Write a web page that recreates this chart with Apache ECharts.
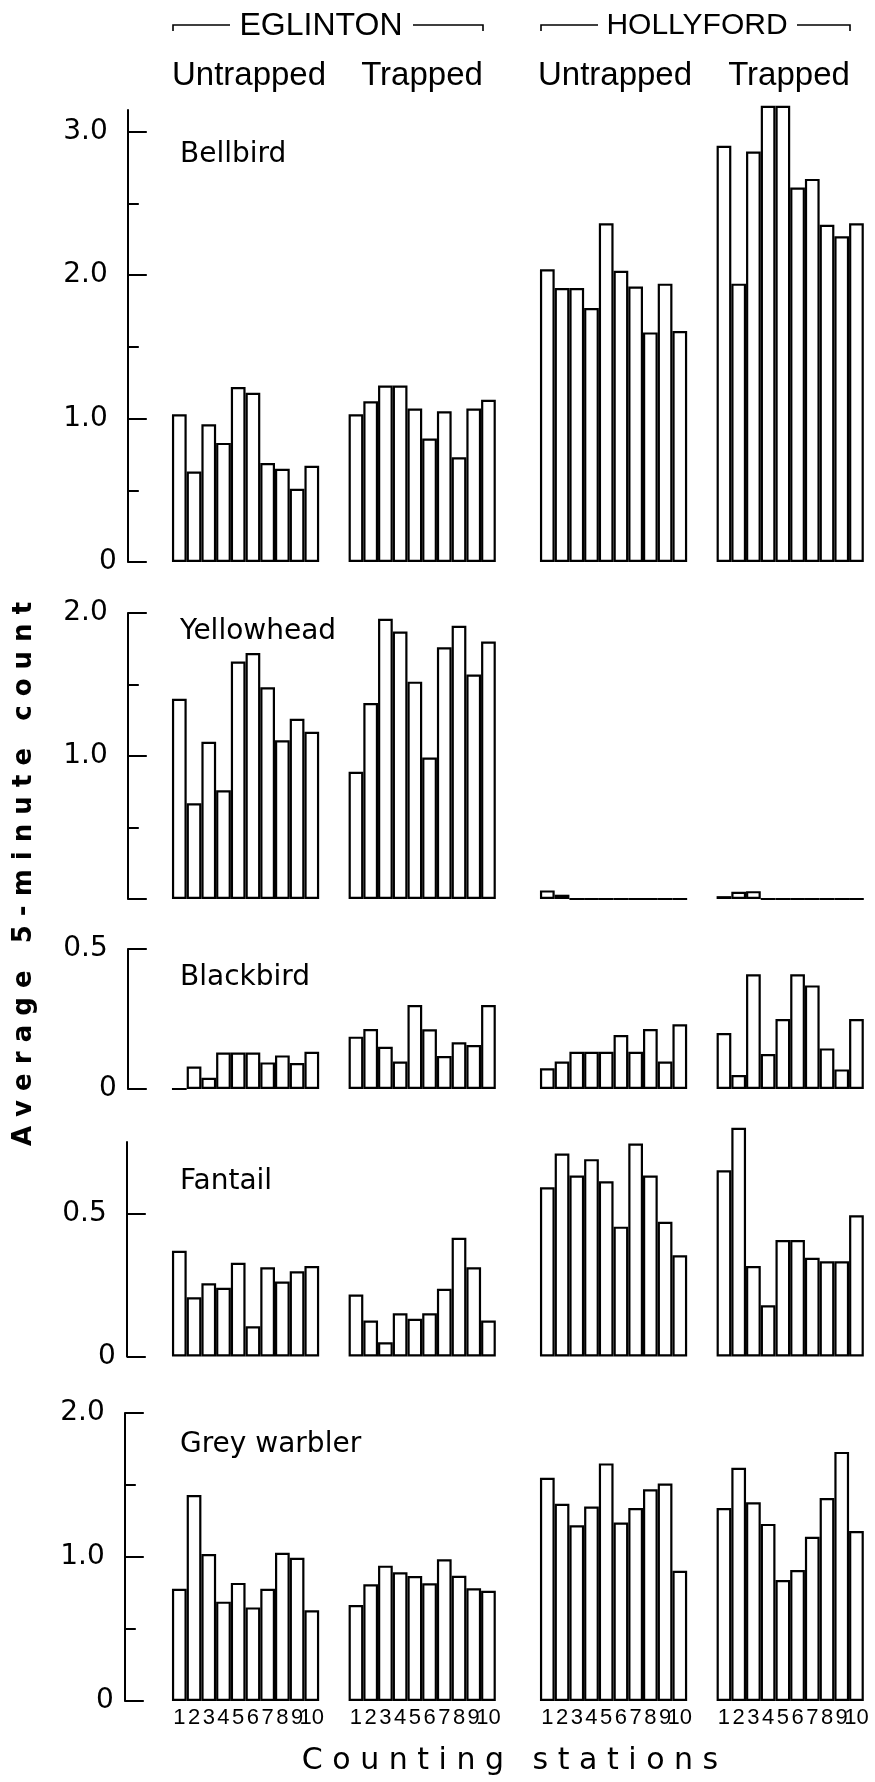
<!DOCTYPE html>
<html>
<head>
<meta charset="utf-8">
<script src="https://cdn.jsdelivr.net/npm/echarts@6/dist/echarts.min.js"></script>
<style>html,body{margin:0;padding:0;background:#fff}#c{width:875px;height:1782px}</style>
</head>
<body>
<div id="c"></div>
<script>
// ---------- data ----------
const stations = ['1','2','3','4','5','6','7','8','9','10'];
const groups = ['Eglinton untrapped','Eglinton trapped','Hollyford untrapped','Hollyford trapped'];
const species = ['Bellbird','Yellowhead','Blackbird','Fantail','Grey warbler'];

const bellbirdEU = [1.03,0.63,0.96,0.83,1.22,1.18,0.69,0.65,0.51,0.67];
const bellbirdET = [1.03,1.12,1.23,1.23,1.07,0.86,1.05,0.73,1.07,1.13];
const bellbirdHU = [2.04,1.91,1.91,1.77,2.36,2.03,1.92,1.60,1.94,1.61];
const bellbirdHT = [2.90,1.94,2.86,3.18,3.18,2.61,2.67,2.35,2.27,2.36];

const yellowheadEU = [1.40,0.67,1.10,0.76,1.66,1.72,1.48,1.11,1.26,1.17];
const yellowheadET = [0.89,1.37,1.96,1.87,1.52,0.99,1.76,1.91,1.57,1.80];
const yellowheadHU = [0.06,0.03,0,0,0,0,0,0,0,0];
const yellowheadHT = [0.02,0.05,0.055,0,0,0,0,0,0,0];

const blackbirdEU = [0,0.08,0.04,0.13,0.13,0.13,0.095,0.12,0.093,0.133];
const blackbirdET = [0.187,0.214,0.151,0.098,0.30,0.213,0.118,0.167,0.157,0.30];
const blackbirdHU = [0.074,0.098,0.133,0.133,0.133,0.193,0.133,0.214,0.098,0.231];
const blackbirdHT = [0.20,0.05,0.41,0.125,0.25,0.41,0.37,0.145,0.07,0.25];

const fantailEU = [0.37,0.207,0.256,0.24,0.328,0.106,0.312,0.262,0.298,0.316];
const fantailET = [0.217,0.126,0.05,0.151,0.132,0.151,0.237,0.415,0.312,0.126];
const fantailHU = [0.592,0.71,0.633,0.69,0.613,0.454,0.745,0.633,0.471,0.354];
const fantailHT = [0.651,0.80,0.316,0.179,0.407,0.407,0.345,0.333,0.333,0.494];

const greyWarblerEU = [0.78,1.43,1.02,0.69,0.82,0.65,0.78,1.03,0.995,0.63];
const greyWarblerET = [0.667,0.81,0.94,0.894,0.868,0.817,0.984,0.87,0.783,0.766];
const greyWarblerHU = [1.55,1.37,1.22,1.35,1.65,1.24,1.34,1.47,1.51,0.905];
const greyWarblerHT = [1.34,1.62,1.38,1.23,0.84,0.91,1.14,1.41,1.73,1.18];

// y-axis tick values per panel
const bellbirdMajor = [0,1,2,3], bellbirdMinor = [0.5,1.5,2.5], bellbirdLabels = [0,1,2,3];
const yellowheadMajor = [0,1,2], yellowheadMinor = [0.5,1.5], yellowheadLabels = [1,2];
const blackbirdMajor = [0,0.5], blackbirdMinor = [], blackbirdLabels = [0,0.5];
const fantailMajor = [0,0.5], fantailMinor = [], fantailLabels = [0,0.5];
const greyWarblerMajor = [0,1,2], greyWarblerMinor = [0.5,1.5], greyWarblerLabels = [0,1,2];
const axisMax = [3.15, 2, 0.5, 0.75, 2];

const panelData = [
  [bellbirdEU,bellbirdET,bellbirdHU,bellbirdHT],
  [yellowheadEU,yellowheadET,yellowheadHU,yellowheadHT],
  [blackbirdEU,blackbirdET,blackbirdHU,blackbirdHT],
  [fantailEU,fantailET,fantailHU,fantailHT],
  [greyWarblerEU,greyWarblerET,greyWarblerHU,greyWarblerHT]
];
const panelTicks = [
  [bellbirdMajor,bellbirdMinor,bellbirdLabels],
  [yellowheadMajor,yellowheadMinor,yellowheadLabels],
  [blackbirdMajor,blackbirdMinor,blackbirdLabels],
  [fantailMajor,fantailMinor,fantailLabels],
  [greyWarblerMajor,greyWarblerMinor,greyWarblerLabels]
];

// ---------- layout ----------
const gridLeft = 127.8, gridWidth = 736;
const panelLayout = [
  {top:110, height:452, offset:0, labelY:155},
  {top:613, height:286, offset:0, labelY:632},
  {top:949, height:140, offset:0, labelY:978},
  {top:1142, height:214.5, offset:1, labelY:1182},
  {top:1413, height:288, offset:3, labelY:1445}
];
const gapSizes = [3,2,3,2]; // empty slots before each group

const catIds = [], catLabels = [];
groups.forEach((g, gi) => {
  for (let i = 0; i < gapSizes[gi]; i++) { catIds.push('gap' + gi + '_' + i); catLabels.push(''); }
  stations.forEach(s => { catIds.push(g + ' ' + s); catLabels.push(s); });
});
function buildRow(sets) {
  const out = [];
  sets.forEach((arr, gi) => {
    for (let i = 0; i < gapSizes[gi]; i++) out.push(null);
    arr.forEach(v => out.push(v));
  });
  return out;
}

const FONT = 'DejaVu Sans';
const grids = [], xAxes = [], yAxes = [], series = [];
panelLayout.forEach((p, i) => {
  grids.push({left:gridLeft, width:gridWidth, top:p.top, height:p.height});
  xAxes.push({
    type:'category', gridIndex:i, data:catIds, boundaryGap:true,
    axisLine:{show:false}, axisTick:{show:false}, splitLine:{show:false},
    axisLabel:{show:i===4, interval:0, margin:6, color:'#000', fontFamily:'Liberation Sans', fontSize:22,
      formatter:(v, idx) => catLabels[idx]}
  });
  const [major, minor, labels] = panelTicks[i];
  const mainIdx = yAxes.length;
  yAxes.push({
    type:'value', gridIndex:i, min:0, max:axisMax[i], interval:0.5, position:'left', offset:p.offset,
    axisLine:{show:true, lineStyle:{color:'#000', width:2}},
    axisTick:{show:true, inside:true, length:19, lineStyle:{color:'#000', width:2}, customValues:major},
    axisLabel:{show:true, customValues:labels, margin:11, color:'#000', fontFamily:FONT, fontSize:28,
      formatter:v => v === 0 ? '0' : '{d|' + v.toFixed(1) + '}',
      rich:{d:{padding:[0,9,0,0], color:'#000', fontFamily:FONT, fontSize:28}}},
    splitLine:{show:false}
  });
  if (minor.length) {
    yAxes.push({
      type:'value', gridIndex:i, min:0, max:axisMax[i], interval:0.5, position:'left', offset:p.offset,
      axisLine:{show:false},
      axisTick:{show:true, inside:true, length:11, lineStyle:{color:'#000', width:2}, customValues:minor},
      axisLabel:{show:false}, splitLine:{show:false}
    });
  }
  series.push({
    type:'bar', name:species[i], xAxisIndex:i, yAxisIndex:mainIdx,
    data:buildRow(panelData[i]), barCategoryGap:'0%', barGap:'0%', clip:false, silent:true,
    itemStyle:{color:'#fff', borderColor:'#000', borderWidth:2.2}
  });
});

// ---------- decorations ----------
const graphics = [];
function txt(text, x, y, size, align, opts) {
  graphics.push(Object.assign({type:'text', x:x, y:y, silent:true,
    style:{text:text, fill:'#000', font: (opts && opts.weight ? opts.weight + ' ' : '') + size + 'px ' + ((opts && opts.family) || FONT),
      align:align, verticalAlign:'middle', textAlign:align, textVerticalAlign:'middle'}}, opts && opts.extra));
}
function line(pts) {
  graphics.push({type:'polyline', silent:true, shape:{points:pts}, style:{stroke:'#000', lineWidth:1.6, fill:null}});
}
// site headers
txt('EGLINTON', 321, 26, 32, 'center', {family:'Liberation Sans'});
line([[173,31],[173,25],[230,25]]);
line([[413,25],[483,25],[483,31]]);
txt('HOLLYFORD', 697, 26, 30, 'center', {family:'Liberation Sans'});
line([[541,31],[541,25],[598,25]]);
line([[797,25],[850,25],[850,31]]);
// treatment headers
txt('Untrapped', 249, 76, 33, 'center', {family:'Liberation Sans'});
txt('Trapped', 422, 76, 33, 'center', {family:'Liberation Sans'});
txt('Untrapped', 615, 76, 33, 'center', {family:'Liberation Sans'});
txt('Trapped', 789, 76, 33, 'center', {family:'Liberation Sans'});
// species labels
panelLayout.forEach((p, i) => txt(species[i], 180, p.labelY, 28, 'left'));
// axis titles
txt('A v e r a g e   5 - m i n u t e   c o u n t', 24, 874, 26, 'center', {weight:'bold', extra:{rotation:Math.PI/2}});
txt('C o u n t i n g   s t a t i o n s', 510, 1761, 30, 'center');

const chart = echarts.init(document.getElementById('c'), null, {renderer:'canvas'});
chart.setOption({
  animation:false,
  backgroundColor:'#fff',
  grid:grids, xAxis:xAxes, yAxis:yAxes, series:series,
  graphic:graphics
});
</script>
</body>
</html>
